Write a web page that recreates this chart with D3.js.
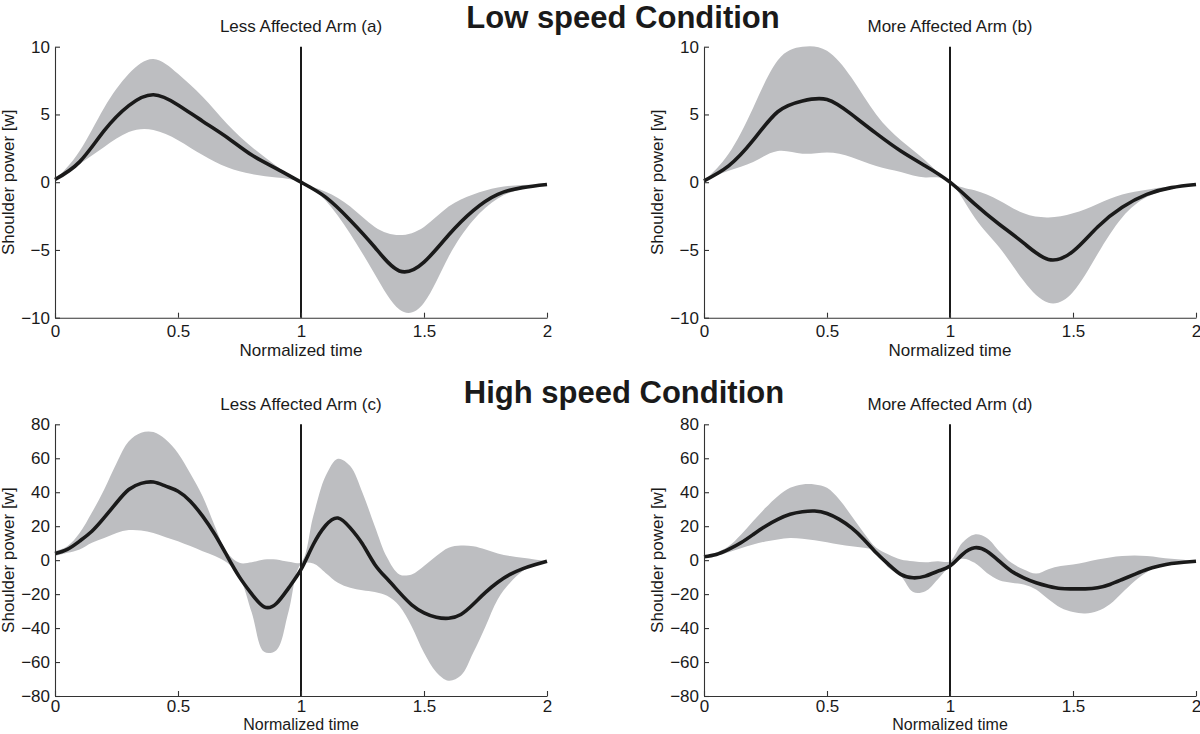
<!DOCTYPE html>
<html><head><meta charset="utf-8">
<script src="https://cdn.jsdelivr.net/npm/d3@7"></script>
<style>
body{margin:0;background:#fff;}
svg text{font-family:"Liberation Sans",Arial,Helvetica,sans-serif;fill:#1a1a1a;}
</style>
</head><body>
<svg id="chart" width="1200" height="734"></svg>
<script>
// ---------------- DATA ----------------
const mainTitles = ["Low speed Condition", "High speed Condition"];
const panelTitles = ["Less Affected Arm (a)", "More Affected Arm (b)", "Less Affected Arm (c)", "More Affected Arm (d)"];
const xLabel = "Normalized time";
const yLabel = "Shoulder power [w]";

const xTicks = [0, 0.5, 1, 1.5, 2];
const xTickLabels = ["0", "0.5", "1", "1.5", "2"];
const yTicksLow = [-10, -5, 0, 5, 10];
const yTickLabelsLow = ["\u221210", "\u22125", "0", "5", "10"];
const yTicksHigh = [-80, -60, -40, -20, 0, 20, 40, 60, 80];
const yTickLabelsHigh = ["\u221280", "\u221260", "\u221240", "\u221220", "0", "20", "40", "60", "80"];

// normalized time samples
const tLow = [0,0.1,0.2,0.3,0.4,0.5,0.6,0.7,0.8,0.9,1.0,1.1,1.2,1.3,1.4,1.5,1.6,1.7,1.8,1.9,2.0];
const tHigh = [0,0.05,0.1,0.15,0.2,0.25,0.3,0.35,0.4,0.45,0.5,0.55,0.6,0.65,0.7,0.75,0.8,0.85,0.9,0.95,
               1.0,1.05,1.1,1.15,1.2,1.25,1.3,1.35,1.4,1.45,1.5,1.55,1.6,1.65,1.7,1.75,1.8,1.85,1.9,1.95,2.0];

// (a) low speed, less affected
const meanA  = [0.2,1.5,3.8,5.65,6.45,5.7,4.5,3.3,2.0,1.0,0,-1.1,-2.8,-4.8,-6.55,-5.9,-3.9,-2.1,-0.9,-0.4,-0.17];
const upperA = [0.17,2.3,5.5,8.0,9.1,8.0,6.3,4.3,2.6,1.2,0,-0.7,-1.8,-3.3,-3.9,-3.3,-1.8,-0.9,-0.4,-0.2,-0.15];
const lowerA = [0.1,1.35,2.6,3.7,3.85,3.1,2.0,1.1,0.6,0.35,0,-1.35,-3.8,-6.8,-9.4,-8.9,-5.5,-2.8,-1.2,-0.5,-0.2];
// (b) low speed, more affected
const meanB  = [0.1,1.2,3.1,5.2,6.0,6.1,5.0,3.6,2.3,1.2,0,-1.6,-3.1,-4.5,-5.7,-5.1,-3.3,-1.85,-0.9,-0.4,-0.17];
const upperB = [0.1,2.1,5.5,9.0,10.0,9.7,7.7,5.0,3.1,1.6,0,-0.6,-1.35,-2.3,-2.6,-2.3,-1.6,-0.9,-0.55,-0.3,-0.17];
const lowerB = [0.1,0.85,1.5,2.3,2.1,2.2,1.85,1.2,0.75,0.35,0,-2.6,-4.8,-7.3,-8.9,-8.1,-5.3,-2.6,-1.1,-0.5,-0.2];
// (c) high speed, less affected
const meanC  = [3.9,6.3,11.2,17,25,33.8,41.6,45.2,46,43.6,40.6,34.7,25.9,15.1,2.4,-10,-20,-27.5,-25.5,-16.3,
                -5.5,9.2,20.4,24.8,19,9.5,-2.5,-11,-19,-26.3,-31,-33.6,-34.2,-32,-26,-19,-13,-8.4,-5.1,-2.7,-0.6];
const upperC = [5.3,8.2,16,28,41.6,57,70,75,75.4,71,63,51,37.7,20,4.3,-1.6,-1.2,0.4,0.4,-1.0,
                -1.2,26,49.5,59.7,55.4,39.7,20,1.5,-8.4,-8.4,-3.5,2.4,7.3,8.6,8.2,6.3,3.9,2.4,1.4,0.4,-0.6];
const lowerC = [2.4,4.3,6.3,10.2,13,16,17.7,17.5,16,13.5,11.2,8.3,5.3,2.4,-1.6,-10,-31,-54,-53,-30,
                -2.6,-2,-7.5,-13.3,-16.3,-17.7,-18.8,-21,-27,-39,-54.6,-66,-71,-68,-54.6,-39,-23,-13.3,-6.5,-2.6,-0.6];
// (d) high speed, more affected
const meanD  = [2.0,3.3,6.3,10.2,15.1,20,24,27,28.5,28.9,27.5,24,19,12.2,4.3,-2.5,-8.4,-10.4,-9.4,-6.5,
                -3.5,3.3,7.3,5.3,-0.6,-6.5,-10.4,-13.3,-15.3,-16.7,-16.9,-16.9,-16.3,-14.3,-11.4,-8.4,-5.5,-3.5,-2.0,-1.2,-0.6];
const upperD = [2.4,4.5,8.2,15,23,30.8,37.7,42.6,44.6,44.6,42.6,35.7,26,16,7.3,3.3,0.4,-0.6,-1.2,-0.6,
                -0.6,10.2,15.1,13.1,5.3,-1.6,-5.5,-7.9,-5.3,-3.5,-2.6,-1.2,0.4,1.6,2.4,2.7,2.4,1.6,0.8,0.2,-0.6];
const lowerD = [1.4,2.6,4.7,7,9.2,11,12.2,13.1,12.6,11.7,10.6,9.2,8.2,7.3,5.3,-4.5,-9.4,-18.8,-18.3,-11.4,
                -3.5,0.8,-1.6,-7.5,-11.8,-13.3,-14.3,-17.3,-23,-28,-30.6,-31.4,-30,-26,-19.2,-12.4,-7.1,-3.5,-2.0,-1.2,-0.6];

// ---------------- LAYOUT ----------------
const svg = d3.select("#chart");
const W = 492;
const panels = [
  {t: tLow,  mean: meanA, up: upperA, lo: lowerA, left: 55,  top: 46.7,  bottom: 317.7, dom: [-10,10], yt: yTicksLow,  yl: yTickLabelsLow,  title: panelTitles[0], bandCurve: d3.curveNatural, tickPad: 7, xlSize: 17, xlY: 355.7},
  {t: tLow,  mean: meanB, up: upperB, lo: lowerB, left: 704, top: 46.7,  bottom: 317.7, dom: [-10,10], yt: yTicksLow,  yl: yTickLabelsLow,  title: panelTitles[1], bandCurve: d3.curveNatural, tickPad: 7, xlSize: 17, xlY: 355.7},
  {t: tHigh, mean: meanC, up: upperC, lo: lowerC, left: 55,  top: 424.3, bottom: 696,   dom: [-80,80], yt: yTicksHigh, yl: yTickLabelsHigh, title: panelTitles[2], bandCurve: d3.curveCatmullRom.alpha(0.5), tickPad: 4, xlSize: 16, xlY: 730.3},
  {t: tHigh, mean: meanD, up: upperD, lo: lowerD, left: 704, top: 424.3, bottom: 696,   dom: [-80,80], yt: yTicksHigh, yl: yTickLabelsHigh, title: panelTitles[3], bandCurve: d3.curveCatmullRom.alpha(0.5), tickPad: 4, xlSize: 16, xlY: 730.3}
];

panels.forEach(p => {
  const x = d3.scaleLinear().domain([0, 2]).range([p.left, p.left + W]);
  const y = d3.scaleLinear().domain(p.dom).range([p.bottom, p.top]);
  const g = svg.append("g");
  const rows = p.t.map((t, i) => ({t, m: p.mean[i], u: p.up[i], l: p.lo[i]}));

  g.append("path").datum(rows)
    .attr("d", d3.area().x(d => x(d.t)).y0(d => y(d.l)).y1(d => y(d.u)).curve(p.bandCurve))
    .attr("fill", "#bdbec1").attr("stroke", "none");

  // vertical separator at t = 1
  g.append("line")
    .attr("x1", x(1)).attr("x2", x(1)).attr("y1", y(p.dom[1])).attr("y2", y(p.dom[0]))
    .attr("stroke", "#1a1a1a").attr("stroke-width", 2);

  g.append("path").datum(rows)
    .attr("d", d3.line().x(d => x(d.t)).y(d => y(d.m)).curve(d3.curveNatural))
    .attr("fill", "none").attr("stroke", "#1a1a1a").attr("stroke-width", 3.6)
    .attr("stroke-linejoin", "round").attr("stroke-linecap", "butt");

  const ax = g.append("g").attr("transform", `translate(0,${p.bottom})`)
    .call(d3.axisBottom(x).tickValues(xTicks).tickFormat((d, i) => xTickLabels[i])
      .tickSizeInner(-5).tickSizeOuter(0).tickPadding(p.tickPad));
  const ay = g.append("g").attr("transform", `translate(${p.left},0)`)
    .call(d3.axisLeft(y).tickValues(p.yt).tickFormat((d, i) => p.yl[i])
      .tickSizeInner(-5).tickSizeOuter(0).tickPadding(5));
  [ax, ay].forEach(a => {
    a.select(".domain").attr("stroke", "#333").attr("stroke-width", 1.1);
    a.selectAll(".tick line").attr("stroke", "#333").attr("stroke-width", 1.1);
    a.selectAll(".tick text").attr("font-size", 17).attr("fill", "#1a1a1a")
      .style("font-family", '"Liberation Sans", Arial, Helvetica, sans-serif');
  });

  g.append("text").attr("x", x(1)).attr("y", p.top - 14.5)
    .attr("text-anchor", "middle").attr("font-size", 17).text(p.title);
  g.append("text").attr("x", x(1)).attr("y", p.xlY)
    .attr("text-anchor", "middle").attr("font-size", p.xlSize).text(xLabel);
  g.append("text")
    .attr("transform", `translate(${p.left - 41},${(p.top + p.bottom) / 2}) rotate(-90)`)
    .attr("text-anchor", "middle").attr("font-size", 17).text(yLabel);
});

svg.append("text").attr("x", 623).attr("y", 28).attr("text-anchor", "middle")
  .attr("font-size", 31).attr("font-weight", "bold").text(mainTitles[0]);
svg.append("text").attr("x", 624).attr("y", 402.5).attr("text-anchor", "middle")
  .attr("font-size", 31).attr("font-weight", "bold").text(mainTitles[1]);
</script>
</body></html>
